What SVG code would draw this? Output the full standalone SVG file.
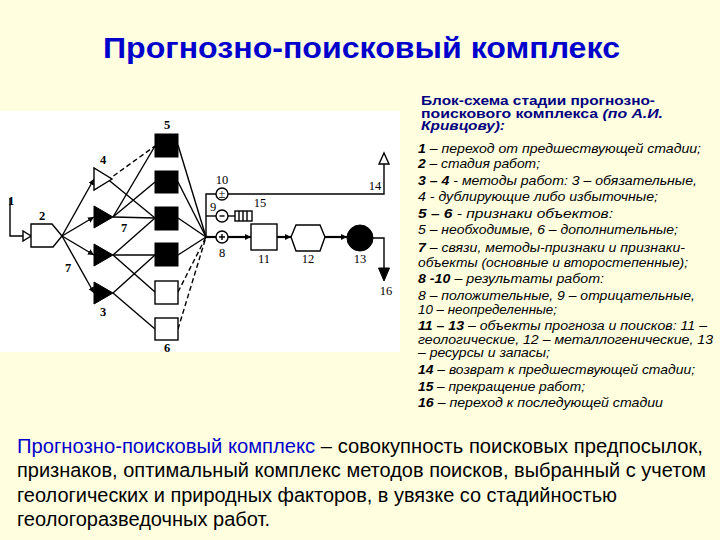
<svg xmlns="http://www.w3.org/2000/svg" width="720" height="540" viewBox="0 0 720 540">
<defs>
<style>
.ln{stroke:#000;stroke-width:1.4;fill:none}
.ds{stroke:#000;stroke-width:1.4;fill:none;stroke-dasharray:5 3}
.th{stroke:#000;stroke-width:2.2;fill:none}
.blk{fill:#000;stroke:#000;stroke-width:1}
.wht{fill:#fff;stroke:#000;stroke-width:1.4}
.lb{font-family:"Liberation Serif",serif;font-size:12.5px;fill:#000}
.lbb{font-family:"Liberation Serif",serif;font-size:12.5px;font-weight:bold;fill:#000}
.rt{font-family:"Liberation Sans",Arial,sans-serif;font-size:13px;font-style:italic;fill:#000}
.rs{font-family:"Liberation Sans",Arial,sans-serif;font-size:12px;font-style:italic;fill:#000}
.hd{font-family:"Liberation Sans",Arial,sans-serif;font-size:12px;font-weight:bold;fill:#000080}
.bt{font-family:"Liberation Sans",Arial,sans-serif;font-size:20px;fill:#000}
</style>
<marker id="ar" viewBox="0 0 10 10" refX="10" refY="5" markerWidth="6" markerHeight="6" orient="auto" markerUnits="userSpaceOnUse"><path d="M0,0 L10,5 L0,10 z" fill="#000"/></marker>
</defs>
<rect width="720" height="540" fill="#ffffe0"/>
<rect x="0" y="111" width="400" height="241" fill="#fff"/>

<text x="361.5" y="58" text-anchor="middle" font-family="'Liberation Sans',Arial,sans-serif" font-size="30" font-weight="bold" fill="#0000cc" textLength="517" lengthAdjust="spacingAndGlyphs">Прогнозно-поисковый комплекс</text>

<g id="connectors">
<polyline class="ln" points="10,198 10,236 23,236"/>
<line class="ln" x1="62" y1="236" x2="94" y2="179" marker-end="url(#ar)"/>
<line class="ln" x1="62" y1="236" x2="94" y2="217" marker-end="url(#ar)"/>
<line class="ln" x1="62" y1="236" x2="94" y2="255" marker-end="url(#ar)"/>
<line class="ln" x1="62" y1="236" x2="94" y2="293" marker-end="url(#ar)"/>
<line class="ln" x1="94" y1="168" x2="155" y2="218"/>
<line class="ds" x1="94" y1="190" x2="155" y2="146"/>
<line class="ln" x1="113" y1="217" x2="155" y2="146"/>
<line class="ln" x1="113" y1="217" x2="155" y2="182"/>
<line class="ln" x1="113" y1="217" x2="155" y2="218"/>
<line class="ln" x1="113" y1="255" x2="155" y2="218"/>
<line class="ln" x1="113" y1="255" x2="155" y2="255"/>
<line class="ln" x1="113" y1="255" x2="155" y2="292"/>
<line class="ln" x1="113" y1="293" x2="155" y2="255"/>
<line class="ln" x1="113" y1="293" x2="155" y2="329"/>
<line class="ln" x1="178" y1="145" x2="206" y2="237"/>
<line class="ln" x1="178" y1="182" x2="206" y2="237"/>
<line class="ln" x1="178" y1="218" x2="206" y2="237"/>
<line class="ln" x1="178" y1="255" x2="206" y2="237"/>
<line class="ds" x1="178" y1="292" x2="206" y2="237"/>
<line class="ds" x1="178" y1="329" x2="206" y2="237"/>
<polyline class="ln" points="216,194 206,194 206,237"/>
<line class="ln" x1="206" y1="216" x2="216" y2="216"/>
<line class="th" x1="206" y1="237" x2="216" y2="237"/>
<polyline class="ln" points="228,194 384,194 384,164"/>
<line class="ln" x1="228" y1="216" x2="235" y2="216"/>
<line class="th" x1="228" y1="237" x2="251" y2="237" marker-end="url(#ar)"/>
<line class="th" x1="277" y1="237" x2="291" y2="237" marker-end="url(#ar)"/>
<line class="th" x1="325" y1="237" x2="347" y2="237" marker-end="url(#ar)"/>
<polyline class="ln" points="373,238 384,238 384,268"/>
<polygon class="wht" points="379,164 389,164 384,153"/>
<polygon class="blk" points="378.5,268 389.5,268 384,281"/>
</g>

<g id="n1"><polygon class="wht" points="23,231 23,241 31,236"/><text class="lbb" x="8" y="205">1</text></g>
<g id="n2"><polygon class="wht" points="31,224 52,224 62,236 53,247 31,247"/><text class="lbb" x="42" y="220" text-anchor="middle">2</text></g>
<g id="n4"><polygon class="wht" points="94,168 94,190 112,179" fill="none"/><text class="lbb" x="103" y="164" text-anchor="middle">4</text></g>
<g id="n3a"><polygon class="blk" points="94,206 94,228 113,217"/></g>
<g id="n3b"><polygon class="blk" points="94,244 94,266 113,255"/></g>
<g id="n3"><polygon class="blk" points="94,282 94,304 113,293"/><text class="lbb" x="103" y="316" text-anchor="middle">3</text></g>
<g id="n7"><text class="lbb" x="124" y="232" text-anchor="middle">7</text><text class="lbb" x="68" y="272" text-anchor="middle">7</text></g>
<g id="n5">
<rect class="blk" x="155" y="134" width="23" height="23"/>
<rect class="blk" x="155" y="171" width="23" height="22"/>
<rect class="blk" x="155" y="207" width="23" height="23"/>
<rect class="blk" x="155" y="243" width="23" height="23"/>
<text class="lbb" x="167" y="129" text-anchor="middle">5</text>
</g>
<g id="n6">
<rect class="wht" x="155" y="281" width="23" height="23"/>
<rect class="wht" x="155" y="318" width="23" height="22"/>
<text class="lbb" x="167" y="352" text-anchor="middle">6</text>
</g>
<g id="n10"><circle class="wht" cx="222" cy="194" r="6"/><text class="lb" x="222" y="198" text-anchor="middle" font-size="11">±</text><text class="lb" x="222" y="184" text-anchor="middle">10</text></g>
<g id="n9"><circle class="wht" cx="222" cy="216" r="6"/><line class="ln" x1="219.5" y1="216" x2="224.5" y2="216"/><text class="lb" x="213" y="211" text-anchor="middle">9</text></g>
<g id="n8"><circle class="wht" cx="222" cy="237" r="6"/><path class="ln" d="M219,237 H225 M222,234 V240"/><text class="lb" x="222" y="257" text-anchor="middle">8</text></g>
<g id="n15"><rect class="wht" x="235" y="211" width="17" height="10"/><path class="ln" d="M239,211V221M243,211V221M247,211V221"/><text class="lb" x="260" y="207" text-anchor="middle">15</text></g>
<g id="n11"><rect class="wht" x="251" y="224" width="26" height="26"/><text class="lb" x="264" y="263" text-anchor="middle">11</text></g>
<g id="n12"><polygon class="wht" points="291,237 296,225 320,225 325,237 320,251 296,251"/><text class="lb" x="308" y="263" text-anchor="middle">12</text></g>
<g id="n13"><circle class="blk" cx="360" cy="238" r="13"/><text class="lb" x="360" y="263" text-anchor="middle">13</text></g>
<g id="n14"><text class="lb" x="375" y="190" text-anchor="middle">14</text></g>
<g id="n16"><text class="lb" x="386" y="295" text-anchor="middle">16</text></g>

<g id="legend">
<text class="hd" x="421" y="105" textLength="234" lengthAdjust="spacingAndGlyphs">Блок-схема стадии прогнозно-</text>
<text class="hd" x="421" y="117.5" textLength="242" lengthAdjust="spacingAndGlyphs">поискового комплекса <tspan font-style="italic">(по А.И.</tspan></text>
<text class="hd" x="421" y="130" font-style="italic" textLength="84" lengthAdjust="spacingAndGlyphs">Кривцову):</text>
<text class="rt" x="418" y="152.5" textLength="283" lengthAdjust="spacingAndGlyphs"><tspan font-weight="bold">1</tspan> – переход от предшествующей стадии;</text>
<text class="rt" x="418" y="168" textLength="122" lengthAdjust="spacingAndGlyphs"><tspan font-weight="bold">2</tspan> – стадия работ;</text>
<text class="rt" x="418" y="184.5" textLength="279" lengthAdjust="spacingAndGlyphs"><tspan font-weight="bold">3 – 4</tspan>  - методы работ: 3 – обязательные,</text>
<text class="rt" x="418" y="200.5" textLength="240" lengthAdjust="spacingAndGlyphs">4 - дублирующие либо избыточные;</text>
<text class="rt" x="418" y="218" textLength="195" lengthAdjust="spacingAndGlyphs"><tspan font-weight="bold">5 – 6</tspan>  - признаки объектов:</text>
<text class="rt" x="418" y="234" textLength="260" lengthAdjust="spacingAndGlyphs">5 – необходимые, 6 – дополнительные;</text>
<text class="rt" x="418" y="251.5" textLength="267" lengthAdjust="spacingAndGlyphs"><tspan font-weight="bold">7</tspan> – связи, методы-признаки и признаки-</text>
<text class="rt" x="418" y="266.5" textLength="270" lengthAdjust="spacingAndGlyphs">объекты (основные и второстепенные);</text>
<text class="rt" x="418" y="283" textLength="186" lengthAdjust="spacingAndGlyphs"><tspan font-weight="bold">8 -10</tspan> – результаты работ:</text>
<text class="rt" x="418" y="300" textLength="277" lengthAdjust="spacingAndGlyphs">8 – положительные, 9 – отрицательные,</text>
<text class="rt" x="418" y="314" textLength="139" lengthAdjust="spacingAndGlyphs">10 – неопределенные;</text>
<text class="rs" x="418" y="330" textLength="289" lengthAdjust="spacingAndGlyphs"><tspan font-weight="bold">11 – 13</tspan> – объекты прогноза и поисков: 11 –</text>
<text class="rs" x="418" y="343.5" textLength="295" lengthAdjust="spacingAndGlyphs">геологические, 12 – металлогенические, 13</text>
<text class="rs" x="418" y="357" textLength="132" lengthAdjust="spacingAndGlyphs">– ресурсы и запасы;</text>
<text class="rt" x="418" y="374" textLength="277" lengthAdjust="spacingAndGlyphs"><tspan font-weight="bold">14</tspan> – возврат к предшествующей стадии;</text>
<text class="rt" x="418" y="390.5" textLength="167" lengthAdjust="spacingAndGlyphs"><tspan font-weight="bold">15</tspan> – прекращение работ;</text>
<text class="rt" x="418" y="407" textLength="245" lengthAdjust="spacingAndGlyphs"><tspan font-weight="bold">16</tspan> – переход к последующей стадии</text>
</g>

<g id="definition">
<text class="bt" x="17" y="453" textLength="686" lengthAdjust="spacingAndGlyphs"><tspan fill="#0000cc">Прогнозно-поисковый комплекс</tspan> – совокупность поисковых предпосылок,</text>
<text class="bt" x="17" y="477" textLength="689" lengthAdjust="spacingAndGlyphs">признаков, оптимальный комплекс методов поисков, выбранный с учетом</text>
<text class="bt" x="17" y="502" textLength="600" lengthAdjust="spacingAndGlyphs">геологических и природных факторов, в увязке со стадийностью</text>
<text class="bt" x="17" y="526" textLength="253" lengthAdjust="spacingAndGlyphs">геологоразведочных работ.</text>
</g>
</svg>
